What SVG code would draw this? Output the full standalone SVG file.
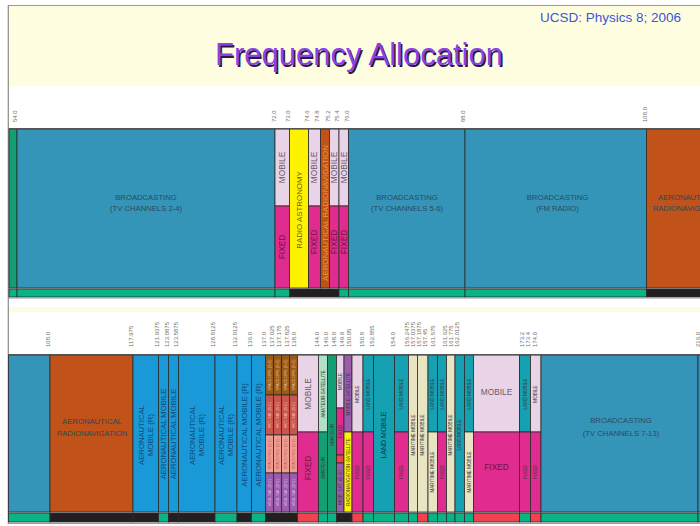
<svg xmlns="http://www.w3.org/2000/svg" width="700" height="526" viewBox="0 0 700 526">
<style>
  text { font-family: "Liberation Sans", Arial, sans-serif; }
  .bc { fill: #3595b9; }
  .am { fill: #1a99d9; }
  .or { fill: #c0521a; }
  .mo { fill: #e9d4e7; }
  .fx { fill: #e02b8f; }
  .ye { fill: #fff200; }
  .gr { fill: #08b386; }
  .gd { fill: #139e73; }
  .mi { fill: #b3e0c9; }
  .te { fill: #16a1b3; }
  .be { fill: #e9e5c3; }
  .pu { fill: #9c5cac; }
  .br { fill: #9b5b17; }
  .rb { fill: #c9554c; }
  .sa { fill: #ee9d93; }
  .rd { fill: #f0424f; }
  .bk { fill: #231f20; }
  .cells rect { stroke: #2b2b2b; stroke-width: 0.8; }
  .tk { font-size: 6px; fill: #6e6e6e; }
  .lb { font-size: 7.7px; fill: #2a4a5e; text-anchor: middle; }
  .v { text-anchor: middle; }
  .m8 { font-size: 8.3px; fill: #6a5a6c; }
  .f8 { font-size: 8.3px; fill: #6d1446; }
  .a8 { font-size: 7.7px; fill: #0f4a78; }
  .s { font-size: 4.6px; fill: #3a3a3a; }
  .t { font-size: 3.6px; }
</style>

<!-- page frame -->
<rect x="0" y="0" width="700" height="526" fill="#ffffff"/>
<rect x="9" y="6" width="691" height="80" fill="#fffde0"/>
<rect x="9" y="307" width="691" height="5" fill="#fffbe2"/>
<line x1="8" y1="5.5" x2="700" y2="5.5" stroke="#9a9a9a" stroke-width="1.2"/>
<line x1="8.3" y1="5" x2="8.3" y2="524" stroke="#8c8c8c" stroke-width="1.2"/>

<text x="681" y="22" font-size="13.5" fill="#3a55d8" text-anchor="end">UCSD: Physics 8; 2006</text>
<g id="title" font-size="31" text-anchor="middle">
  <text x="360.5" y="66.5" fill="#2b1a3e">Frequency Allocation</text>
  <text x="359" y="65" fill="#8c42e6">Frequency Allocation</text>
</g>

<!-- ===== band 50-108 MHz ===== -->
<g class="cells">
  <g id="amateur-50"><rect class="gd" x="9" y="129" width="8" height="159"/></g>
  <g id="tv-2-4">
    <rect class="bc" x="17" y="129" width="258" height="159"/>
    <text class="lb" x="146" y="200">BROADCASTING</text>
    <text class="lb" x="146" y="211">(TV CHANNELS 2-4)</text>
  </g>
  <g id="b72">
    <rect class="mo" x="275" y="129" width="14.5" height="77"/>
    <rect class="fx" x="275" y="206" width="14.5" height="82"/>
    <text class="v m8" transform="translate(282.25,167.5) rotate(-90)" dy=".35em">MOBILE</text>
    <text class="v f8" transform="translate(282.25,247) rotate(-90)" dy=".35em">FIXED</text>
  </g>
  <g id="radio-astronomy">
    <rect class="ye" x="289.5" y="129" width="19" height="159"/>
    <text class="v" font-size="7.9" fill="#6a6410" transform="translate(299,210) rotate(-90)" dy=".35em">RADIO ASTRONOMY</text>
  </g>
  <g id="b74">
    <rect class="mo" x="308.5" y="129" width="12" height="77"/>
    <rect class="fx" x="308.5" y="206" width="12" height="82"/>
    <text class="v m8" font-size="7.6" transform="translate(314.5,167.5) rotate(-90)" dy=".35em">MOBILE</text>
    <text class="v f8" font-size="7.6" transform="translate(314.5,242) rotate(-90)" dy=".35em">FIXED</text>
  </g>
  <g id="aero-74">
    <rect class="or" x="320.5" y="129" width="9" height="159"/>
    <text class="v" font-size="7.9" fill="#e0a030" transform="translate(325,213) rotate(-90)" dy=".35em">AERONAUTICAL RADIONAVIGATION</text>
  </g>
  <g id="b75a">
    <rect class="mo" x="329.5" y="129" width="9.5" height="77"/>
    <rect class="fx" x="329.5" y="206" width="9.5" height="82"/>
    <text class="v m8" font-size="7.4" transform="translate(334.25,167.5) rotate(-90)" dy=".35em">MOBILE</text>
    <text class="v f8" font-size="7.4" transform="translate(334.25,242) rotate(-90)" dy=".35em">FIXED</text>
  </g>
  <g id="b75b">
    <rect class="mo" x="339" y="129" width="9.5" height="77"/>
    <rect class="fx" x="339" y="206" width="9.5" height="82"/>
    <text class="v m8" font-size="7.4" transform="translate(343.75,167.5) rotate(-90)" dy=".35em">MOBILE</text>
    <text class="v f8" font-size="7.4" transform="translate(343.75,242) rotate(-90)" dy=".35em">FIXED</text>
  </g>
  <g id="tv-5-6">
    <rect class="bc" x="348.5" y="129" width="116.5" height="159"/>
    <text class="lb" x="407" y="200">BROADCASTING</text>
    <text class="lb" x="407" y="211">(TV CHANNELS 5-6)</text>
  </g>
  <g id="fm-radio">
    <rect class="bc" x="465" y="129" width="181.5" height="159"/>
    <text class="lb" x="557.5" y="200">BROADCASTING</text>
    <text class="lb" x="557.5" y="211">(FM RADIO)</text>
  </g>
  <g id="aero-108">
    <rect class="or" x="646.5" y="129" width="60" height="159"/>
    <text class="lb" fill="#3a1a08" x="688" y="200">AERONAUTICAL</text>
    <text class="lb" fill="#3a1a08" x="688" y="211">RADIONAVIGATION</text>
  </g>
  <!-- status strip -->
  <g id="strip-upper">
    <rect class="gr" x="9" y="289" width="8" height="8"/>
    <rect class="gr" x="17" y="289" width="258" height="8"/>
    <rect class="gr" x="275" y="289" width="14.5" height="8"/>
    <rect class="bk" x="289.5" y="289" width="49.5" height="8"/>
    <rect class="gr" x="339" y="289" width="9.5" height="8"/>
    <rect class="gr" x="348.5" y="289" width="116.5" height="8"/>
    <rect class="gr" x="465" y="289" width="181.5" height="8"/>
    <rect class="bk" x="646.5" y="289" width="60" height="8"/>
  </g>
</g>
<line x1="9" y1="128.6" x2="700" y2="128.6" stroke="#555" stroke-width="1.4"/>
<line x1="9" y1="298" x2="700" y2="298" stroke="#9a9a9a" stroke-width="1"/>

<g id="ticks-upper" class="tk">
  <text transform="translate(17,122) rotate(-90)">54.0</text>
  <text transform="translate(275.5,122) rotate(-90)">72.0</text>
  <text transform="translate(290,122) rotate(-90)">73.0</text>
  <text transform="translate(308.5,122) rotate(-90)">74.6</text>
  <text transform="translate(319,122) rotate(-90)">74.8</text>
  <text transform="translate(329.5,122) rotate(-90)">75.2</text>
  <text transform="translate(339,122) rotate(-90)">75.4</text>
  <text transform="translate(348.5,122) rotate(-90)">76.0</text>
  <text transform="translate(465,122) rotate(-90)">88.0</text>
  <text transform="translate(646.5,122) rotate(-90)">108.0</text>
</g>

<!-- ===== band 88-216 MHz ===== -->
<g class="cells">
  <g id="fm-tail"><rect class="bc" x="8.5" y="355" width="41.5" height="157"/></g>
  <g id="aero-radionav">
    <rect class="or" x="50" y="355" width="83" height="157"/>
    <text class="lb" fill="#3a1606" x="92" y="424">AERONAUTICAL</text>
    <text class="lb" fill="#3a1606" x="92" y="436">RADIONAVIGATION</text>
  </g>
  <g id="am-118">
    <rect class="am" x="133" y="355" width="25.5" height="157"/>
    <text class="v a8" transform="translate(145.75,435) rotate(-90)" y="-4.3" dy=".35em">AERONAUTICAL</text>
    <text class="v a8" transform="translate(145.75,435) rotate(-90)" y="4.3" dy=".35em">MOBILE (R)</text>
  </g>
  <g id="am-122">
    <rect class="am" x="158.5" y="355" width="10" height="157"/>
    <text class="v a8" transform="translate(163.5,434) rotate(-90)" dy=".35em">AERONAUTICAL MOBILE</text>
  </g>
  <g id="am-123">
    <rect class="am" x="168.5" y="355" width="10" height="157"/>
    <text class="v a8" transform="translate(173.5,434) rotate(-90)" dy=".35em">AERONAUTICAL MOBILE</text>
  </g>
  <g id="am-124">
    <rect class="am" x="178.5" y="355" width="36.5" height="157"/>
    <text class="v a8" transform="translate(196.75,435) rotate(-90)" y="-4.3" dy=".35em">AERONAUTICAL</text>
    <text class="v a8" transform="translate(196.75,435) rotate(-90)" y="4.3" dy=".35em">MOBILE (R)</text>
  </g>
  <g id="am-129">
    <rect class="am" x="215" y="355" width="22" height="157"/>
    <text class="v a8" transform="translate(226,435) rotate(-90)" y="-4.3" dy=".35em">AERONAUTICAL</text>
    <text class="v a8" transform="translate(226,435) rotate(-90)" y="4.3" dy=".35em">MOBILE (R)</text>
  </g>
  <g id="am-132">
    <rect class="am" x="237" y="355" width="14.5" height="157"/>
    <text class="v a8" transform="translate(244.25,435) rotate(-90)" dy=".35em">AERONAUTICAL MOBILE (R)</text>
  </g>
  <g id="am-136">
    <rect class="am" x="251.5" y="355" width="14" height="157"/>
    <text class="v a8" transform="translate(258.5,435) rotate(-90)" dy=".35em">AERONAUTICAL MOBILE (R)</text>
  </g>
  <g id="sat-137">
    <rect class="br" x="265.5" y="355" width="8" height="40"/>
    <rect class="br" x="273.5" y="355" width="8" height="40"/>
    <rect class="br" x="281.5" y="355" width="8" height="40"/>
    <rect class="br" x="289.5" y="355" width="8" height="40"/>
    <rect class="rb" x="265.5" y="395" width="8" height="40"/>
    <rect class="rb" x="273.5" y="395" width="8" height="40"/>
    <rect class="rb" x="281.5" y="395" width="8" height="40"/>
    <rect class="rb" x="289.5" y="395" width="8" height="40"/>
    <rect class="sa" x="265.5" y="435" width="8" height="38"/>
    <rect class="sa" x="273.5" y="435" width="8" height="38"/>
    <rect class="sa" x="281.5" y="435" width="8" height="38"/>
    <rect class="sa" x="289.5" y="435" width="8" height="38"/>
    <rect class="pu" x="265.5" y="473" width="8" height="39"/>
    <rect class="pu" x="273.5" y="473" width="8" height="39"/>
    <rect class="pu" x="281.5" y="473" width="8" height="39"/>
    <rect class="pu" x="289.5" y="473" width="8" height="39"/>
    <g class="v t" fill="#e8c4a8">
      <text transform="translate(269.5,375) rotate(-90)" dy=".35em">SPACE OPN. (S-E)</text>
      <text transform="translate(277.5,375) rotate(-90)" dy=".35em">SPACE OPN. (S-E)</text>
      <text transform="translate(285.5,375) rotate(-90)" dy=".35em">SPACE OPN. (S-E)</text>
      <text transform="translate(293.5,375) rotate(-90)" dy=".35em">SPACE OPN. (S-E)</text>
    </g>
    <g class="v t" fill="#f2c4bc">
      <text transform="translate(269.5,415) rotate(-90)" dy=".35em">MET. SAT. (S-E)</text>
      <text transform="translate(277.5,415) rotate(-90)" dy=".35em">MET. SAT. (S-E)</text>
      <text transform="translate(285.5,415) rotate(-90)" dy=".35em">MET. SAT. (S-E)</text>
      <text transform="translate(293.5,415) rotate(-90)" dy=".35em">MET. SAT. (S-E)</text>
    </g>
    <g class="v t" fill="#c85a58">
      <text transform="translate(269.5,454) rotate(-90)" dy=".35em">SPACE RES. (S-E)</text>
      <text transform="translate(277.5,454) rotate(-90)" dy=".35em">SPACE RES. (S-E)</text>
      <text transform="translate(285.5,454) rotate(-90)" dy=".35em">SPACE RES. (S-E)</text>
      <text transform="translate(293.5,454) rotate(-90)" dy=".35em">SPACE RES. (S-E)</text>
    </g>
    <g class="v t" fill="#dcc0e4">
      <text transform="translate(269.5,492.5) rotate(-90)" dy=".35em">MOB. SAT. (S-E)</text>
      <text transform="translate(277.5,492.5) rotate(-90)" dy=".35em">MOB. SAT. (S-E)</text>
      <text transform="translate(285.5,492.5) rotate(-90)" dy=".35em">MOB. SAT. (S-E)</text>
      <text transform="translate(293.5,492.5) rotate(-90)" dy=".35em">MOB. SAT. (S-E)</text>
    </g>
  </g>
  <g id="b138">
    <rect class="mo" x="297.5" y="355" width="21" height="77"/>
    <rect class="fx" x="297.5" y="432" width="21" height="80"/>
    <text class="v m8" transform="translate(308,394) rotate(-90)" dy=".35em">MOBILE</text>
    <text class="v f8" transform="translate(308,468) rotate(-90)" dy=".35em">FIXED</text>
  </g>
  <g id="b144">
    <rect class="mi" x="318.5" y="355" width="9" height="77"/>
    <rect class="gd" x="318.5" y="432" width="9" height="80"/>
    <text class="v s" fill="#4a6a5a" transform="translate(323,394) rotate(-90)" dy=".35em">AMATEUR-SATELLITE</text>
    <text class="v s" fill="#0a4a34" transform="translate(323,468) rotate(-90)" dy=".35em">AMATEUR</text>
  </g>
  <g id="b146">
    <rect class="gd" x="327.5" y="355" width="9" height="157"/>
    <text class="v s" fill="#0a4a34" transform="translate(332,435) rotate(-90)" dy=".35em">AMATEUR</text>
  </g>
  <g id="b148">
    <rect class="mo" x="336.5" y="355" width="7.5" height="53"/>
    <rect class="fx" x="336.5" y="408" width="7.5" height="47"/>
    <rect class="rd" x="336.5" y="455" width="7.5" height="8"/>
    <rect class="pu" x="336.5" y="463" width="7.5" height="49"/>
    <text class="v s" fill="#6a5a6c" transform="translate(340.25,381.5) rotate(-90)" dy=".35em">MOBILE</text>
    <text class="v s" fill="#6d1446" transform="translate(340.25,431.5) rotate(-90)" dy=".35em">FIXED</text>
    <text class="v s" fill="#3a1a48" transform="translate(340.25,487.5) rotate(-90)" dy=".35em">MOB. SAT. (E-S)</text>
  </g>
  <g id="b150">
    <rect class="pu" x="344" y="355" width="8" height="77"/>
    <rect class="ye" x="344" y="432" width="8" height="80"/>
    <text class="v s" fill="#3a1a48" transform="translate(348,394) rotate(-90)" dy=".35em">MOBILE-SATELLITE</text>
    <text class="v s" fill="#6a6410" transform="translate(348,472) rotate(-90)" dy=".35em">RADIONAVIGATION-SATELLITE</text>
  </g>
  <g id="b150b">
    <rect class="mo" x="352" y="355" width="11" height="77"/>
    <rect class="fx" x="352" y="432" width="11" height="80"/>
    <text class="v s" fill="#6a5a6c" transform="translate(357.5,394) rotate(-90)" dy=".35em">MOBILE</text>
    <text class="v s" fill="#6d1446" transform="translate(357.5,472) rotate(-90)" dy=".35em">FIXED</text>
  </g>
  <g id="b151">
    <rect class="te" x="363" y="355" width="10.5" height="77"/>
    <rect class="fx" x="363" y="432" width="10.5" height="80"/>
    <text class="v s" fill="#0a4a58" transform="translate(368.25,394) rotate(-90)" dy=".35em">LAND MOBILE</text>
    <text class="v s" fill="#6d1446" transform="translate(368.25,472) rotate(-90)" dy=".35em">FIXED</text>
  </g>
  <g id="b153">
    <rect class="te" x="373.5" y="355" width="21" height="157"/>
    <text class="v" font-size="7" fill="#0a3a48" transform="translate(384,435) rotate(-90)" dy=".35em">LAND MOBILE</text>
  </g>
  <g id="b154">
    <rect class="te" x="394.5" y="355" width="14" height="77"/>
    <rect class="fx" x="394.5" y="432" width="14" height="80"/>
    <text class="v s" fill="#0a4a58" transform="translate(401.5,394) rotate(-90)" dy=".35em">LAND MOBILE</text>
    <text class="v s" fill="#6d1446" transform="translate(401.5,472) rotate(-90)" dy=".35em">FIXED</text>
  </g>
  <g id="b156">
    <rect class="be" x="408.5" y="355" width="9" height="157"/>
    <text class="v s" fill="#5a5630" transform="translate(413,435) rotate(-90)" dy=".35em">MARITIME MOBILE</text>
  </g>
  <g id="b157a">
    <rect class="be" x="417.5" y="355" width="10.5" height="157"/>
    <text class="v s" fill="#5a5630" transform="translate(422.75,435) rotate(-90)" dy=".35em">MARITIME MOBILE</text>
  </g>
  <g id="b157b">
    <rect class="te" x="428" y="355" width="9.5" height="77"/>
    <rect class="be" x="428" y="432" width="9.5" height="80"/>
    <text class="v s" fill="#0a4a58" transform="translate(432.75,394) rotate(-90)" dy=".35em">LAND MOBILE</text>
    <text class="v s" fill="#5a5630" transform="translate(432.75,472) rotate(-90)" dy=".35em">MARITIME MOBILE</text>
  </g>
  <g id="b157c">
    <rect class="te" x="437.5" y="355" width="9" height="77"/>
    <rect class="fx" x="437.5" y="432" width="9" height="80"/>
    <text class="v s" fill="#0a4a58" transform="translate(442,394) rotate(-90)" dy=".35em">LAND MOBILE</text>
    <text class="v s" fill="#6d1446" transform="translate(442,472) rotate(-90)" dy=".35em">FIXED</text>
  </g>
  <g id="b161a">
    <rect class="be" x="446.5" y="355" width="8.5" height="157"/>
    <text class="v s" fill="#5a5630" transform="translate(450.75,435) rotate(-90)" dy=".35em">MARITIME MOBILE</text>
  </g>
  <g id="b161b">
    <rect class="te" x="455" y="355" width="9.5" height="157"/>
    <text class="v s" fill="#0a4a58" transform="translate(459.75,435) rotate(-90)" dy=".35em">LAND MOBILE</text>
  </g>
  <g id="b161c">
    <rect class="te" x="464.5" y="355" width="9" height="77"/>
    <rect class="be" x="464.5" y="432" width="9" height="80"/>
    <text class="v s" fill="#0a4a58" transform="translate(469,394) rotate(-90)" dy=".35em">LAND MOBILE</text>
    <text class="v s" fill="#5a5630" transform="translate(469,472) rotate(-90)" dy=".35em">MARITIME MOBILE</text>
  </g>
  <g id="b162">
    <rect class="mo" x="473.5" y="355" width="46" height="77"/>
    <rect class="fx" x="473.5" y="432" width="46" height="80"/>
    <text class="m8" font-size="8.6" text-anchor="middle" x="496.5" y="395">MOBILE</text>
    <text class="f8" font-size="8.6" text-anchor="middle" x="496.5" y="470">FIXED</text>
  </g>
  <g id="b173a">
    <rect class="te" x="519.5" y="355" width="11" height="77"/>
    <rect class="fx" x="519.5" y="432" width="11" height="80"/>
    <text class="v s" fill="#0a4a58" transform="translate(525,394) rotate(-90)" dy=".35em">LAND MOBILE</text>
    <text class="v s" fill="#6d1446" transform="translate(525,472) rotate(-90)" dy=".35em">FIXED</text>
  </g>
  <g id="b173b">
    <rect class="mo" x="530.5" y="355" width="10.5" height="77"/>
    <rect class="fx" x="530.5" y="432" width="10.5" height="80"/>
    <text class="v s" fill="#6a5a6c" transform="translate(535.75,394) rotate(-90)" dy=".35em">MOBILE</text>
    <text class="v s" fill="#6d1446" transform="translate(535.75,472) rotate(-90)" dy=".35em">FIXED</text>
  </g>
  <g id="tv-7-13">
    <rect class="bc" x="541" y="355" width="157" height="157"/>
    <text class="lb" x="621" y="423">BROADCASTING</text>
    <text class="lb" x="621" y="436">(TV CHANNELS 7-13)</text>
  </g>
  <g id="b216"><rect class="bc" x="698" y="355" width="10" height="157"/></g>
  <!-- status strip -->
  <g id="strip-lower">
    <rect class="gr" x="8.5" y="513" width="41.5" height="9"/>
    <rect class="bk" x="50" y="513" width="83" height="9"/>
    <rect class="bk" x="133" y="513" width="25.5" height="9"/>
    <rect class="gr" x="158.5" y="513" width="10" height="9"/>
    <rect class="bk" x="168.5" y="513" width="10" height="9"/>
    <rect class="bk" x="178.5" y="513" width="36.5" height="9"/>
    <rect class="gr" x="215" y="513" width="22" height="9"/>
    <rect class="bk" x="237" y="513" width="14.5" height="9"/>
    <rect class="gr" x="251.5" y="513" width="14" height="9"/>
    <rect class="bk" x="265.5" y="513" width="32" height="9"/>
    <rect class="rd" x="297.5" y="513" width="21" height="9"/>
    <rect class="gr" x="318.5" y="513" width="9" height="9"/>
    <rect class="gr" x="327.5" y="513" width="9" height="9"/>
    <rect class="bk" x="336.5" y="513" width="15.5" height="9"/>
    <rect class="rd" x="352" y="513" width="11" height="9"/>
    <rect class="gr" x="363" y="513" width="10.5" height="9"/>
    <rect class="gr" x="373.5" y="513" width="21" height="9"/>
    <rect class="gr" x="394.5" y="513" width="14" height="9"/>
    <rect class="gr" x="408.5" y="513" width="9" height="9"/>
    <rect class="rd" x="417.5" y="513" width="10.5" height="9"/>
    <rect class="gr" x="428" y="513" width="9.5" height="9"/>
    <rect class="gr" x="437.5" y="513" width="9" height="9"/>
    <rect class="gr" x="446.5" y="513" width="8.5" height="9"/>
    <rect class="gr" x="455" y="513" width="9.5" height="9"/>
    <rect class="gr" x="464.5" y="513" width="9" height="9"/>
    <rect class="rd" x="473.5" y="513" width="46" height="9"/>
    <rect class="gr" x="519.5" y="513" width="11" height="9"/>
    <rect class="rd" x="530.5" y="513" width="10.5" height="9"/>
    <rect class="gr" x="541" y="513" width="157" height="9"/>
    <rect class="gr" x="698" y="513" width="10" height="9"/>
  </g>
</g>
<line x1="8.5" y1="354.6" x2="700" y2="354.6" stroke="#555" stroke-width="1.4"/>
<line x1="8.5" y1="523.5" x2="700" y2="523.5" stroke="#9a9a9a" stroke-width="1"/>

<g id="ticks-lower" class="tk" font-size="5.8">
  <text transform="translate(50,347) rotate(-90)">108.0</text>
  <text transform="translate(133,347) rotate(-90)">117.975</text>
  <text transform="translate(159,347) rotate(-90)">121.9375</text>
  <text transform="translate(168.5,347) rotate(-90)">123.0875</text>
  <text transform="translate(178,347) rotate(-90)">123.5875</text>
  <text transform="translate(215,347) rotate(-90)">128.8125</text>
  <text transform="translate(237,347) rotate(-90)">132.0125</text>
  <text transform="translate(251.5,347) rotate(-90)">136.0</text>
  <text transform="translate(266,347) rotate(-90)">137.0</text>
  <text transform="translate(273.5,347) rotate(-90)">137.025</text>
  <text transform="translate(281,347) rotate(-90)">137.175</text>
  <text transform="translate(288.5,347) rotate(-90)">137.825</text>
  <text transform="translate(296,347) rotate(-90)">138.0</text>
  <text transform="translate(319,347) rotate(-90)">144.0</text>
  <text transform="translate(327.5,347) rotate(-90)">146.0</text>
  <text transform="translate(336,347) rotate(-90)">148.0</text>
  <text transform="translate(343.5,347) rotate(-90)">149.9</text>
  <text transform="translate(351,347) rotate(-90)">150.05</text>
  <text transform="translate(363.5,347) rotate(-90)">150.8</text>
  <text transform="translate(373.5,347) rotate(-90)">152.855</text>
  <text transform="translate(395,347) rotate(-90)">154.0</text>
  <text transform="translate(408.5,347) rotate(-90)">156.2475</text>
  <text transform="translate(415,347) rotate(-90)">157.0375</text>
  <text transform="translate(420.5,347) rotate(-90)">157.1875</text>
  <text transform="translate(427,347) rotate(-90)">157.45</text>
  <text transform="translate(435,347) rotate(-90)">161.575</text>
  <text transform="translate(447,347) rotate(-90)">161.625</text>
  <text transform="translate(452.5,347) rotate(-90)">161.775</text>
  <text transform="translate(459,347) rotate(-90)">162.0125</text>
  <text transform="translate(524,347) rotate(-90)">173.2</text>
  <text transform="translate(530,347) rotate(-90)">173.4</text>
  <text transform="translate(537,347) rotate(-90)">174.0</text>
  <text transform="translate(699.5,347) rotate(-90)">216.0</text>
</g>
</svg>
